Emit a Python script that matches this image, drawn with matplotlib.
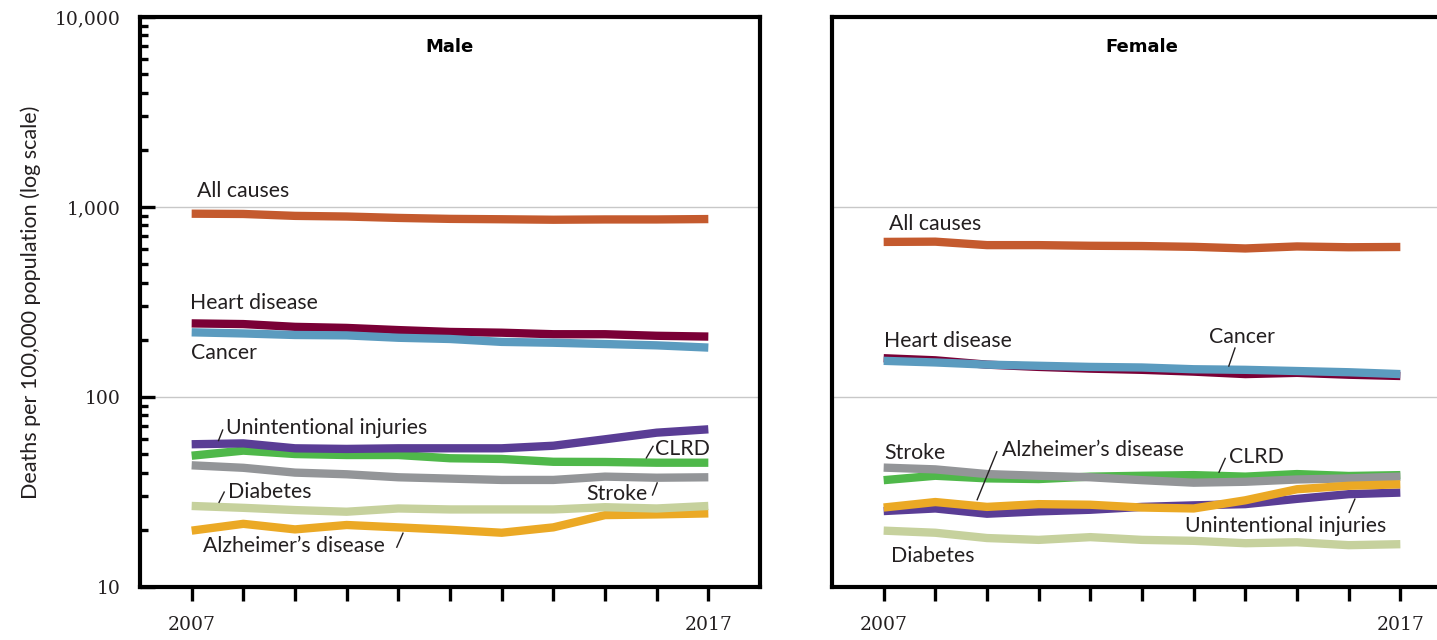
import numpy as np
import matplotlib
matplotlib.use("Agg")
import matplotlib.pyplot as plt
from matplotlib.ticker import FixedLocator, NullFormatter, FuncFormatter

years = list(range(2007, 2018))

male = {
    "All causes": [922, 919, 898, 891, 876, 866, 862, 857, 860, 860, 864],
    "Heart disease": [244, 242, 234, 231, 225, 220, 218, 214, 214, 210, 208],
    "Cancer": [219, 216, 212, 211, 205, 202, 195, 193, 190, 187, 182],
    "Unintentional injuries": [56.4, 57.0, 53.7, 53.3, 53.7, 53.7, 53.7, 55.4, 59.9, 64.9, 67.6],
    "CLRD": [49.1, 52.2, 50.1, 49.5, 49.5, 47.6, 47.2, 45.6, 45.5, 45.1, 45.1],
    "Stroke": [43.7, 42.4, 40.0, 39.2, 37.8, 37.2, 36.6, 36.6, 38.1, 37.6, 37.8],
    "Diabetes": [26.7, 26.1, 25.4, 24.9, 25.9, 25.6, 25.6, 25.6, 26.3, 25.9, 26.7],
    "Alzheimer's disease": [19.8, 21.5, 20.1, 21.2, 20.6, 20.0, 19.3, 20.6, 23.9, 24.1, 24.4],
}

female = {
    "All causes": [655, 657, 630, 630, 625, 623, 617, 605, 620, 614, 616],
    "Heart disease": [160, 156, 148, 144, 141, 139, 136, 132, 134, 131, 129],
    "Cancer": [155, 152, 148, 146, 144, 143, 140, 139, 137, 135, 132],
    "Unintentional injuries": [25.1, 25.9, 24.3, 25.0, 25.5, 26.4, 26.9, 27.3, 29.1, 30.8, 31.4],
    "CLRD": [36.5, 38.5, 37.3, 37.0, 38.1, 38.5, 38.8, 38.1, 39.3, 38.4, 38.8],
    "Stroke": [42.5, 41.6, 39.3, 38.5, 37.8, 36.5, 35.4, 35.8, 36.8, 37.3, 38.1],
    "Diabetes": [19.8, 19.3, 18.1, 17.7, 18.3, 17.7, 17.5, 17.0, 17.2, 16.6, 16.8],
    "Alzheimer's disease": [26.2, 28.0, 26.4, 27.3, 27.1, 26.2, 25.9, 28.6, 32.7, 34.1, 34.7],
}

colors = {
    "All causes": "#C45A2E",
    "Heart disease": "#7A0036",
    "Cancer": "#5B9BBF",
    "Unintentional injuries": "#5A3D95",
    "CLRD": "#4FB84A",
    "Stroke": "#939598",
    "Diabetes": "#C6D19D",
    "Alzheimer's disease": "#EBA925",
}

draw_order = ["All causes", "Heart disease", "Cancer", "CLRD", "Stroke",
              "Unintentional injuries", "Alzheimer's disease", "Diabetes"]

y_ticks = [10, 100, 1000, 10000]
x_label_years = [2007, 2017]

# label placements (data coords): text, x, y, ha ; leader (x1,y1,x2,y2) or None
male_labels = [
    ("All causes", 2007.10, 1214, "left", None),
    ("Heart disease", 2006.97, 312, "left", None),
    ("Cancer", 2006.99, 170, "left", None),
    ("Unintentional injuries", 2007.66, 68.7, "left", (2007.52, 59.0, 2007.60, 67.0)),
    ("CLRD", 2015.97, 53.2, "left", (2015.80, 47.8, 2015.93, 55.0)),
    ("Stroke", 2015.83, 30.8, "right", (2016.01, 35.3, 2015.92, 30.5)),
    ("Diabetes", 2007.70, 31.6, "left", (2007.63, 31.6, 2007.53, 27.9)),
    ("Alzheimer\u2019s disease", 2007.22, 16.4, "left", (2011.09, 19.2, 2010.97, 16.2)),
]
female_labels = [
    ("All causes", 2007.10, 814, "left", None),
    ("Heart disease", 2007.01, 197, "left", None),
    ("Cancer", 2013.30, 207, "left", (2013.80, 181, 2013.68, 145.5)),
    ("Stroke", 2007.01, 50.7, "left", None),
    ("Alzheimer\u2019s disease", 2009.29, 52.6, "left", (2009.19, 51.5, 2008.81, 28.8)),
    ("CLRD", 2013.68, 48.3, "left", (2013.61, 47.5, 2013.49, 40.2)),
    ("Unintentional injuries", 2012.83, 20.96, "left", (2016.12, 29.0, 2016.01, 24.7)),
    ("Diabetes", 2007.14, 14.6, "left", None),
]

W, H = 1437, 640
fig = plt.figure(figsize=(W / 100, H / 100), dpi=100)

ax_w = 620 / W
ax_h = 570 / H
ax_b = 53 / H
axm = fig.add_axes([140 / W, ax_b, ax_w, ax_h])
axf = fig.add_axes([832 / W, ax_b, ax_w, ax_h])

label_font = dict(family="Lato", size=15.3, color="#231F20")

def setup(ax, data, labels, title, show_y):
    for name in draw_order:
        ax.plot(years, data[name], color=colors[name], lw=6.0,
                solid_capstyle="butt", solid_joinstyle="round", zorder=3)
    ax.set_yscale("log")
    ax.set_ylim(10, 10000)
    ax.set_xlim(2006, 2018)
    ax.yaxis.set_major_locator(FixedLocator(y_ticks))
    ax.yaxis.grid(True, which="major", color="#C8C8C8", lw=1.0, zorder=1)
    ax.set_xticks(years)
    ax.set_xticklabels([str(y) if y in x_label_years else "" for y in years],
                       family="DejaVu Serif", fontsize=13.5, color="#231F20")
    ax.tick_params(axis="x", direction="out", length=10, width=2.4, pad=11, color="black")
    for sp in ax.spines.values():
        sp.set_linewidth(3.0)
        sp.set_color("black")
    if show_y:
        minors = [m * 10 ** e for e in range(1, 4) for m in range(2, 10)]
        ax.yaxis.set_minor_locator(FixedLocator(minors))
        ax.yaxis.set_minor_formatter(NullFormatter())
        ax.yaxis.set_major_formatter(FuncFormatter(lambda v, p: f"{int(v):,}"))
        ax.tick_params(axis="y", which="major", direction="in", length=11, width=2.4,
                       pad=14, labelsize=13.5)
        ax.tick_params(axis="y", which="minor", direction="in", length=5.5, width=2.4)
        for t in ax.get_yticklabels():
            t.set_family("DejaVu Serif")
            t.set_color("#231F20")
        ax.set_ylabel("Deaths per 100,000 population (log scale)", family="Lato",
                      fontsize=15.5, color="#231F20", labelpad=10)
    else:
        ax.yaxis.set_minor_locator(FixedLocator([]))
        ax.tick_params(axis="y", which="both", length=0, labelleft=False)
    ax.text(0.5, 0.947, title, transform=ax.transAxes, ha="center", va="center",
            family="DejaVu Sans", fontweight="bold", fontsize=13, color="black")
    for text, x, y, ha, leader in labels:
        ax.text(x, y, text, ha=ha, va="center", zorder=5, **label_font)
        if leader is not None:
            x1, y1, x2, y2 = leader
            ax.plot([x1, x2], [y1, y2], color="#231F20", lw=1.0, zorder=5)

setup(axm, male, male_labels, "Male", True)
setup(axf, female, female_labels, "Female", False)
axf.spines["right"].set_visible(False)

fig.savefig("out.png", dpi=100)
